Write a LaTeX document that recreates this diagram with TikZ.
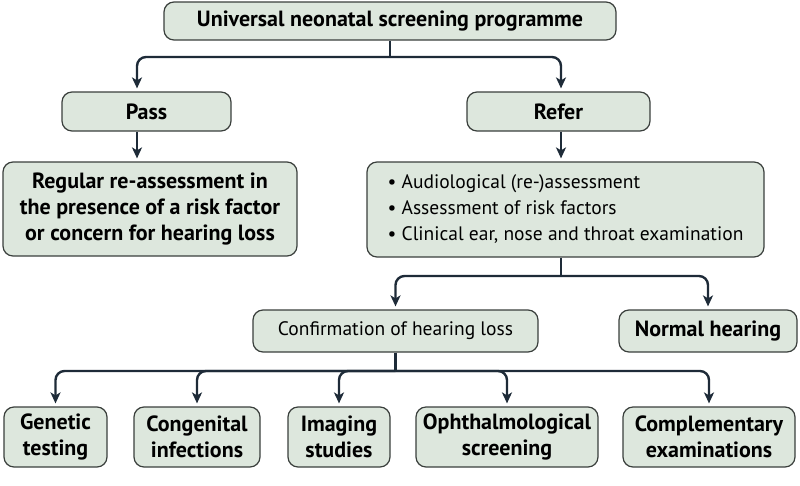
\documentclass[tikz,border=0pt]{standalone}
\usepackage{fontspec}
\setmainfont{PT Sans}
\usetikzlibrary{arrows.meta}
\definecolor{boxfill}{HTML}{DDE7DD}
\definecolor{boxline}{HTML}{3A3F3C}
\definecolor{flowcol}{HTML}{1E2B38}
\tikzset{
  stepnode/.style = {draw=boxline,fill=boxfill,line width=1.2pt,rounded corners=10pt,
                     align=center,inner sep=2pt,font=\fontsize{22}{26}\selectfont\bfseries},
  plainnode/.style = {stepnode,font=\fontsize{19.5}{26}\selectfont},
  flowarr/.style  = {-{Stealth[length=11pt,width=10pt,inset=3pt]},line width=2.4pt,
                     draw=flowcol,rounded corners=9pt,shorten >=3pt},
  stemline/.style = {line width=2.4pt,draw=flowcol}
}

\begin{document}
\begin{tikzpicture}[x=1pt,y=-1pt]
  \useasboundingbox (0,0) rectangle (800,485);
  % top levels
  \node[stepnode,minimum width=452pt,minimum height=38pt] (screen) at (390,21)
        {Universal neonatal screening programme};
  \node[stepnode,minimum width=169pt,minimum height=39pt] (pass)  at (146.5,111.5) {Pass};
  \node[stepnode,minimum width=183pt,minimum height=39pt] (refer) at (558.5,111.5) {Refer};
  \node[stepnode,minimum width=294pt,minimum height=94pt] (regular) at (150,209)
        {Regular re-assessment in\\the presence of a risk factor\\or concern for hearing loss};
  \node[plainnode,minimum width=397pt,minimum height=95pt,align=left] (checks) at (565.5,209.5)
        {• Audiological (re-)assessment\\• Assessment of risk factors\\• Clinical ear, nose and throat examination};
  \node[plainnode,minimum width=285pt,minimum height=42pt] (confirm) at (395.5,331)
        {Confirmation of hearing loss};
  \node[stepnode,minimum width=178pt,minimum height=42pt] (normal) at (708,331) {Normal hearing};
  % work-up row
  \node[stepnode,minimum width=103pt,minimum height=60pt] (genetic)  at (55.5,437) {Genetic\\testing};
  \node[stepnode,minimum width=126pt,minimum height=60pt] (infect)   at (197,437) {Congenital\\infections};
  \node[stepnode,minimum width=102pt,minimum height=60pt] (imaging)  at (339,437) {Imaging\\studies};
  \node[stepnode,minimum width=182pt,minimum height=60pt] (ophthal)  at (507,437) {Ophthalmological\\screening};
  \node[stepnode,minimum width=172pt,minimum height=60pt] (complem)  at (709,437) {Complementary\\examinations};

  \coordinate (split1) at (390,57);
  \coordinate (passcol) at (137,0);
  \coordinate (split2) at (561,276);
  \coordinate (split3) at (395.5,371);

  \draw[stemline] (screen.south) -- (split1);
  \draw[flowarr] (split1) -| (pass.north -| passcol);
  \draw[flowarr] (split1) -| (refer.north -| split2);
  \draw[flowarr] (pass.south -| passcol) -- (regular.north -| passcol);
  \draw[flowarr] (refer.south -| split2) -- (checks.north -| split2);

  \draw[stemline] (checks.south -| split2) -- (split2);
  \draw[flowarr] (split2) -| (confirm.north);
  \draw[flowarr] (split2) -| (normal.north);

  \draw[stemline] (confirm.south) -- (split3);
  \foreach \n in {genetic,infect,imaging,ophthal,complem}
    \draw[flowarr] (split3) -| (\n.north);
\end{tikzpicture}
\end{document}
